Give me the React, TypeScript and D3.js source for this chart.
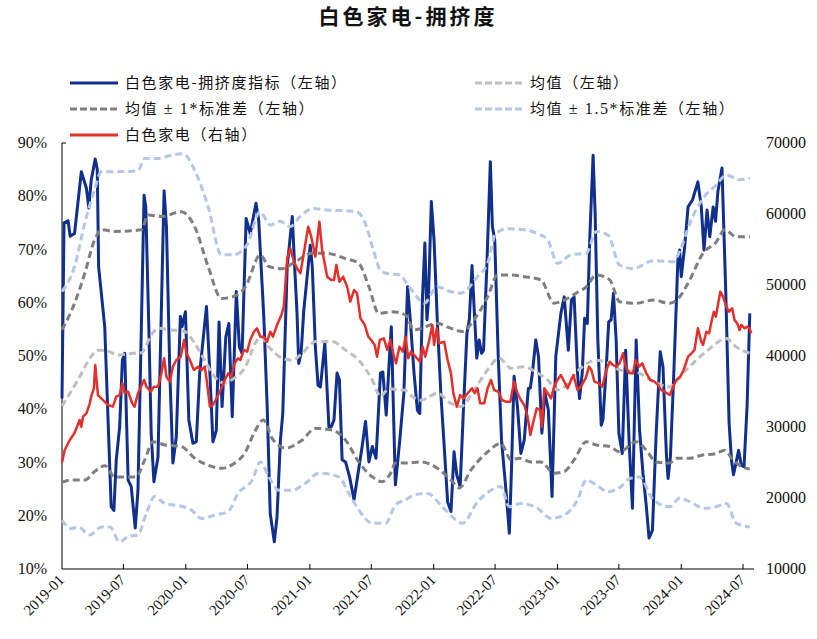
import React from 'react';
import * as d3 from 'd3';

// ---------- data ----------
const xTickLabels: string[] = ['2019-01','2019-07','2020-01','2020-07','2021-01','2021-07','2022-01','2022-07','2023-01','2023-07','2024-01','2024-07'];
const leftTicks: number[] = [10, 20, 30, 40, 50, 60, 70, 80, 90];
const rightTicks: number[] = [10000, 20000, 30000, 40000, 50000, 60000, 70000];

// 白色家电-拥挤度指标 (%)
const crowdSeries: [string, number][] = [
['2019-01-01',42],['2019-01-07',75],['2019-01-19',75.4],['2019-01-25',72.5],['2019-02-07',73],['2019-02-27',84.6],['2019-03-14',81.5],['2019-03-21',77.8],['2019-03-28',83],['2019-04-09',87],['2019-04-15',85],['2019-04-19',66.8],['2019-05-07',55.5],['2019-05-26',21.7],['2019-06-03',21],['2019-06-10',30.5],['2019-06-20',36.7],['2019-06-28',49.2],['2019-07-05',50.5],['2019-07-15',26.7],['2019-07-24',25.5],['2019-08-05',17.7],['2019-08-13',24.8],['2019-08-31',80.2],['2019-09-05',78],['2019-09-14',55.5],['2019-09-21',35.5],['2019-09-29',26.4],['2019-10-11',31],['2019-10-29',81],['2019-11-05',74.3],['2019-11-15',46.8],['2019-11-24',29.9],['2019-12-04',34.8],['2019-12-16',57.4],['2019-12-21',55.5],['2019-12-31',58.3],
['2020-01-10',38],['2020-01-22',33.6],['2020-02-01',33.9],['2020-02-11',46.8],['2020-03-02',59.3],['2020-03-12',46.8],['2020-03-21',33.9],['2020-03-31',36],['2020-04-08',56.4],['2020-04-17',40.5],['2020-04-28',53.6],['2020-05-07',56.1],['2020-05-17',38.6],['2020-05-29',62.1],['2020-06-07',51.7],['2020-06-15',50.5],['2020-06-27',75.8],['2020-07-09',73],['2020-07-26',78.7],['2020-08-03',75.5],['2020-08-18',57.4],['2020-08-28',40.5],['2020-09-06',20.4],['2020-09-18',15.1],['2020-09-26',19.8],['2020-10-06',34.2],['2020-10-13',39.2],['2020-10-26',66.8],['2020-11-10',76.2],['2020-11-17',66.8],['2020-11-24',58],['2020-11-29',48.6],['2020-12-06',50.5],['2020-12-14',58.6],
['2021-01-02',70.8],['2021-01-08',66.8],['2021-01-17',51.7],['2021-01-25',44.5],['2021-02-01',44.2],['2021-02-14',52.4],['2021-02-26',36.7],['2021-03-05',36.7],['2021-03-13',38],['2021-03-22',46.8],['2021-03-29',45.5],['2021-04-06',30.5],['2021-04-16',30.1],['2021-04-28',27.3],['2021-05-11',23],['2021-05-23',28],['2021-06-04',33],['2021-06-14',37.7],['2021-06-24',30.1],['2021-07-04',33],['2021-07-15',30.8],['2021-07-28',46.8],['2021-08-04',47],['2021-08-14',38.9],['2021-08-22',48],['2021-08-29',55.5],['2021-09-10',25.8],['2021-09-23',34.2],['2021-10-05',43],['2021-10-16',63],['2021-10-24',56.8],['2021-11-04',46.8],['2021-11-14',39.8],['2021-11-21',39.2],['2021-11-29',61],['2021-12-06',71.2],['2021-12-12',56.8],['2021-12-16',59.9],['2021-12-25',79],
['2022-01-02',71.8],['2022-01-12',56.1],['2022-01-22',43],['2022-02-01',33],['2022-02-11',22.6],['2022-02-21',20.8],['2022-03-02',32],['2022-03-10',27.7],['2022-03-20',25.5],['2022-03-30',40.5],['2022-04-09',54.3],['2022-04-16',56.8],['2022-04-24',67],['2022-04-30',59.3],['2022-05-08',49.6],['2022-05-15',53],['2022-05-22',50.5],['2022-05-28',51.1],['2022-06-07',67.4],['2022-06-17',86.5],['2022-06-23',74.3],['2022-06-30',71.8],['2022-07-10',50.5],['2022-07-20',34.2],['2022-08-02',24.8],['2022-08-12',16.7],['2022-08-18',28],['2022-08-26',46.2],['2022-09-05',40.5],['2022-09-15',31.7],['2022-09-25',34.2],['2022-10-07',43.9],['2022-10-13',44],['2022-10-19',46.8],['2022-10-29',53],['2022-11-06',49.9],['2022-11-16',35.5],['2022-11-25',43],['2022-12-05',39.9],['2022-12-16',23.6],['2022-12-27',49.9],
['2023-01-11',58],['2023-01-21',61.1],['2023-02-02',51.1],['2023-02-11',60.5],['2023-02-19',61.1],['2023-03-01',46.8],['2023-03-07',42],['2023-03-15',46.8],['2023-03-22',57.1],['2023-03-30',56.1],['2023-04-06',71.8],['2023-04-16',87.7],['2023-04-22',76.8],['2023-04-30',53],['2023-05-10',37],['2023-05-15',38],['2023-05-25',48],['2023-06-01',56.4],['2023-06-08',56.8],['2023-06-15',61.8],['2023-06-23',53],['2023-07-01',35.5],['2023-07-11',31.7],['2023-07-21',51.1],['2023-07-31',34.2],['2023-08-10',21.4],['2023-08-21',53],['2023-08-31',36.1],['2023-09-10',28],['2023-09-20',21.7],['2023-09-28',15.8],['2023-10-08',17.3],['2023-10-19',35.5],['2023-10-31',50.8],['2023-11-08',48],['2023-11-18',31.7],['2023-11-23',27],['2023-11-30',31.1],['2023-12-10',46.8],['2023-12-22',68],['2023-12-27',69.9],
['2024-01-01',64.9],['2024-01-11',70.5],['2024-01-21',78],['2024-02-03',79.3],['2024-02-19',82.7],['2024-02-29',78],['2024-03-08',69.9],['2024-03-17',77.4],['2024-03-25',72.4],['2024-04-04',78],['2024-04-11',75.3],['2024-04-18',80.9],['2024-04-30',85.3],['2024-05-11',62.4],['2024-05-21',37.4],['2024-05-28',30.5],['2024-06-03',27.7],['2024-06-11',30.1],['2024-06-18',32.3],['2024-06-26',29.5],['2024-07-04',29.2],['2024-07-13',40.5],['2024-07-21',58]
];

// 均值
const meanSeries: [string, number][] = [
['2019-01-01',40.6],['2019-02-17',45.5],['2019-03-28',49.9],['2019-04-17',51.1],['2019-05-07',51.1],['2019-06-15',50.2],['2019-07-30',50.5],['2019-08-23',50.6],['2019-09-21',53.9],['2019-10-11',55.2],['2019-11-19',54.9],['2019-12-29',54.6],['2020-01-27',52.4],['2020-02-26',49.2],['2020-03-26',46.1],['2020-04-25',44.9],['2020-05-17',45.6],['2020-06-25',48],['2020-07-24',52.4],['2020-08-08',53.6],['2020-09-02',51.7],['2020-10-11',49.6],['2020-11-10',49.2],['2020-12-09',50.5],['2021-01-17',52.7],['2021-03-08',52.7],['2021-04-16',51.1],['2021-05-25',49.2],['2021-07-04',45.5],['2021-07-28',42.4],['2021-08-22',43.9],['2021-09-20',43.6],['2021-10-06',43.6],['2021-10-30',42.4],['2021-11-24',41.7],['2022-01-12',43],['2022-02-21',41.1],['2022-03-22',40.5],['2022-04-30',43.6],['2022-06-09',47.4],['2022-07-13',49.6],['2022-08-17',47.7],['2022-09-25',48],['2022-10-29',47],['2022-12-03',45.5],['2023-01-01',43.6],['2023-02-10',45.5],['2023-02-25',46.8],['2023-04-06',48.9],['2023-04-25',49.2],['2023-06-04',48.6],['2023-07-03',47.4],['2023-08-21',47],['2023-10-10',45.2],['2023-11-28',44.2],['2024-01-06',46.8],['2024-02-14',49.2],['2024-03-25',51.4],['2024-05-13',53.3],['2024-06-11',51.7],['2024-07-21',50.5]
];

// 均值+1*标准差
const upper1Series: [string, number][] = [
['2019-01-01',54.9],['2019-02-07',59.9],['2019-03-09',65.5],['2019-04-07',71.8],['2019-04-27',73.7],['2019-06-05',73.4],['2019-08-23',73.7],['2019-09-12',76.5],['2019-10-21',76.2],['2019-12-19',77.1],['2020-01-27',74.3],['2020-03-07',66.8],['2020-04-15',60.8],['2020-05-17',61.1],['2020-06-25',63],['2020-08-08',69],['2020-09-02',66.8],['2020-10-11',66.4],['2020-11-19',67.7],['2021-01-08',69.3],['2021-02-16',69.3],['2021-04-16',68.3],['2021-05-25',67.4],['2021-06-24',63],['2021-07-23',58],['2021-09-01',58.3],['2021-10-10',57.7],['2021-11-04',54.9],['2022-01-12',56.1],['2022-02-21',55.2],['2022-03-27',54.6],['2022-04-30',56.8],['2022-06-09',61.1],['2022-07-08',65.2],['2022-08-17',65.2],['2022-09-25',64.9],['2022-11-13',64.3],['2022-12-22',59.9],['2023-01-21',60.5],['2023-02-25',61.8],['2023-03-27',63],['2023-04-25',65.2],['2023-06-04',64.3],['2023-07-03',60.2],['2023-08-21',59.9],['2023-10-10',60.5],['2023-11-28',59.9],['2023-12-27',61.1],['2024-01-26',64.3],['2024-03-05',69.3],['2024-04-13',71.4],['2024-05-08',73.7],['2024-06-11',72.4],['2024-07-21',72.4]
];

// 均值-1*标准差
const lower1Series: [string, number][] = [
['2019-01-01',26.3],['2019-01-28',26.7],['2019-03-09',26.7],['2019-04-07',28.3],['2019-05-08',29.4],['2019-06-05',27.3],['2019-08-07',27.3],['2019-09-02',30.5],['2019-09-26',33.9],['2019-10-31',33.3],['2019-12-19',33],['2020-01-27',30.8],['2020-03-07',29.5],['2020-04-15',28.9],['2020-05-17',29.6],['2020-06-25',32],['2020-07-20',35.5],['2020-08-17',38],['2020-09-12',34.5],['2020-10-21',32.7],['2020-12-09',34.2],['2021-01-17',36.4],['2021-03-08',36.1],['2021-04-16',34.2],['2021-05-25',30.1],['2021-07-04',27.3],['2021-08-02',26.4],['2021-08-27',28],['2021-09-10',29.9],['2021-10-10',29.9],['2021-11-24',30.1],['2022-01-12',28.9],['2022-02-21',26.7],['2022-03-17',25.2],['2022-04-21',28.6],['2022-06-09',32],['2022-07-18',33.6],['2022-08-17',30.5],['2022-09-10',30.8],['2022-10-15',30.1],['2022-11-13',30.1],['2022-12-22',28],['2023-01-21',28.3],['2023-02-19',30.5],['2023-03-27',33.9],['2023-04-25',33.3],['2023-06-04',33],['2023-07-03',32],['2023-08-21',33.9],['2023-09-20',32.3],['2023-10-19',30.1],['2023-11-28',29.9],['2023-12-17',30.8],['2024-01-26',30.8],['2024-03-05',31.4],['2024-04-13',31.7],['2024-05-08',32.3],['2024-06-01',30.5],['2024-07-11',28.9],['2024-07-21',28.8]
];

// 均值+1.5*标准差
const upper15Series: [string, number][] = [
['2019-01-01',62.1],['2019-02-07',66.8],['2019-03-09',74.9],['2019-04-07',81.2],['2019-04-27',84.6],['2019-06-05',84.6],['2019-08-13',84.8],['2019-09-02',87.1],['2019-10-11',87.1],['2019-11-19',87.7],['2019-12-24',88],['2020-01-27',84.9],['2020-03-07',78],['2020-04-15',69],['2020-05-20',69],['2020-06-29',70.8],['2020-08-07',77.1],['2020-09-06',74.6],['2020-10-05',75.3],['2020-11-04',74.3],['2020-12-03',76.2],['2021-01-11',77.7],['2021-02-20',77.4],['2021-04-10',77.3],['2021-05-19',77.1],['2021-06-13',74.9],['2021-07-07',69.9],['2021-07-27',66.2],['2021-08-16',65.5],['2021-09-24',65.2],['2021-10-14',63.6],['2021-11-04',61.8],['2021-12-04',59.9],['2022-01-11',63],['2022-02-20',62.1],['2022-03-22',61.8],['2022-05-10',64.9],['2022-06-09',67.4],['2022-07-03',73],['2022-08-07',73.9],['2022-09-25',73.7],['2022-11-03',73],['2022-12-03',71.8],['2023-01-01',67.4],['2023-02-10',69],['2023-03-27',69.3],['2023-04-25',73.4],['2023-05-30',72.7],['2023-07-03',67.1],['2023-08-12',66.4],['2023-10-10',67.9],['2023-12-08',67.7],['2023-12-27',69.6],['2024-01-26',74.9],['2024-03-05',79.6],['2024-04-13',82.1],['2024-05-13',84],['2024-06-21',83.1],['2024-07-21',83.4]
];

// 均值-1.5*标准差
const lower15Series: [string, number][] = [
['2019-01-01',19.2],['2019-01-28',17.6],['2019-02-17',17.9],['2019-03-24',16.4],['2019-04-27',17.9],['2019-05-22',17.9],['2019-06-20',15.1],['2019-07-15',16.1],['2019-08-13',16.4],['2019-09-07',20.5],['2019-10-01',23.6],['2019-10-31',22.3],['2019-11-29',22],['2019-12-24',21.7],['2020-01-17',21.1],['2020-02-16',19.5],['2020-03-26',20.1],['2020-05-05',20.8],['2020-06-03',24.2],['2020-07-15',26.7],['2020-08-08',30.1],['2020-09-02',27.3],['2020-10-01',24.8],['2020-11-10',24.8],['2020-12-19',26.1],['2021-01-27',28],['2021-03-27',27.3],['2021-04-26',24.2],['2021-05-25',21.1],['2021-07-04',18.6],['2021-08-12',18.6],['2021-09-10',22],['2021-10-10',23],['2021-11-04',23.9],['2021-12-14',24.2],['2022-01-22',22],['2022-02-25',19.8],['2022-03-27',18.6],['2022-05-10',22.6],['2022-06-19',24.8],['2022-07-18',25.5],['2022-08-12',21.7],['2022-09-15',22.3],['2022-11-03',21.4],['2022-12-13',19.5],['2023-01-21',20.1],['2023-03-01',23],['2023-03-27',26.7],['2023-04-25',25.8],['2023-05-30',24.5],['2023-07-08',25.5],['2023-08-02',27],['2023-08-31',27.3],['2023-10-10',23],['2023-11-28',21.7],['2023-12-27',23.3],['2024-02-05',22.3],['2024-03-05',21.4],['2024-04-13',21.7],['2024-05-13',22.3],['2024-06-11',18.6],['2024-07-21',17.9]
];

// 白色家电 指数 (右轴)
const indexSeries: [string, number][] = [
['2019-01-01',25000],['2019-01-09',26760],['2019-01-24',28170],['2019-02-07',29150],['2019-02-22',30990],['2019-02-27',30040],['2019-03-04',31450],['2019-03-14',31930],['2019-03-24',33340],['2019-03-28',34270],['2019-04-05',35450],['2019-04-09',38730],['2019-04-17',34500],['2019-05-02',33800],['2019-05-17',33100],['2019-05-31',32860],['2019-06-10',34270],['2019-06-20',34500],['2019-06-28',36160],['2019-07-05',34750],['2019-07-15',34970],['2019-07-27',33340],['2019-08-03',32860],['2019-08-13',34750],['2019-08-31',36620],['2019-09-07',35680],['2019-09-20',34970],['2019-09-29',35680],['2019-10-11',35680],['2019-10-21',37560],['2019-10-29',39680],['2019-11-05',37080],['2019-11-15',36380],['2019-11-24',38500],['2019-12-04',39440],['2019-12-17',39900],['2019-12-27',42250],
['2020-01-03',40380],['2020-01-13',39440],['2020-01-25',38030],['2020-02-06',38500],['2020-02-16',38030],['2020-02-26',38500],['2020-03-02',36860],['2020-03-12',32860],['2020-03-21',33100],['2020-04-03',34270],['2020-04-15',35450],['2020-04-25',36620],['2020-05-05',37560],['2020-05-14',37080],['2020-05-24',38970],['2020-06-03',39680],['2020-06-10',39440],['2020-06-20',40850],['2020-06-30',40610],['2020-07-09',42250],['2020-07-20',43420],['2020-07-29',43900],['2020-08-08',42720],['2020-08-18',42720],['2020-08-28',42010],['2020-09-06',43420],['2020-09-14',42720],['2020-09-26',44370],['2020-10-09',45780],['2020-10-16',46940],['2020-10-26',53760],['2020-11-04',55170],['2020-11-15',53290],['2020-11-24',52350],['2020-12-04',51650],['2020-12-14',54470],['2020-12-27',58210],
['2021-01-05',56800],['2021-01-17',53990],['2021-01-29',58910],['2021-02-06',54940],['2021-02-21',51170],['2021-03-05',50700],['2021-03-13',50700],['2021-03-20',52820],['2021-03-29',50470],['2021-04-09',51170],['2021-04-21',49760],['2021-04-30',47650],['2021-05-11',49290],['2021-05-20',48830],['2021-05-30',45310],['2021-06-12',44370],['2021-06-22',42720],['2021-07-01',42250],['2021-07-11',41550],['2021-07-18',39900],['2021-07-26',42250],['2021-08-07',42490],['2021-08-17',40850],['2021-08-26',42250],['2021-09-06',39900],['2021-09-12',38970],['2021-09-22',41310],['2021-10-02',40610],['2021-10-10',42720],['2021-10-18',39680],['2021-10-26',40610],['2021-11-09',39900],['2021-11-21',39200],['2021-11-29',41310],['2021-12-07',39900],['2021-12-19',42250],['2021-12-28',44370],
['2022-01-02',41550],['2022-01-10',43900],['2022-01-17',41790],['2022-02-01',42010],['2022-02-11',39440],['2022-02-21',37560],['2022-02-28',34750],['2022-03-10',32860],['2022-03-20',34500],['2022-03-30',34030],['2022-04-11',34750],['2022-04-24',35450],['2022-05-02',34750],['2022-05-10',35450],['2022-05-18',33340],['2022-05-30',33340],['2022-06-09',35450],['2022-06-19',36620],['2022-06-28',35210],['2022-07-11',34970],['2022-07-21',33800],['2022-08-02',33570],['2022-08-15',33570],['2022-08-26',36380],['2022-09-05',34750],['2022-09-15',33800],['2022-09-25',33100],['2022-10-05',31450],['2022-10-13',28870],['2022-10-23',30990],['2022-11-01',32630],['2022-11-11',32390],['2022-11-16',30040],['2022-11-23',35450],['2022-12-03',34750],['2022-12-13',34030],['2022-12-22',35680],
['2023-01-01',36620],['2023-01-11',37320],['2023-01-21',36380],['2023-01-31',35450],['2023-02-10',36620],['2023-02-17',37320],['2023-03-01',35210],['2023-03-11',35680],['2023-03-25',36860],['2023-04-04',38500],['2023-04-11',38030],['2023-04-20',36380],['2023-05-03',36150],['2023-05-13',35680],['2023-05-25',38030],['2023-06-04',39200],['2023-06-14',38730],['2023-06-23',38500],['2023-07-03',38970],['2023-07-13',40380],['2023-07-21',38500],['2023-08-01',37560],['2023-08-12',37560],['2023-08-19',39440],['2023-08-29',38500],['2023-09-08',38970],['2023-09-20',37560],['2023-10-02',36620],['2023-10-14',36380],['2023-10-24',35920],['2023-11-03',35210],['2023-11-13',34970],['2023-11-28',34500],['2023-12-08',35680],['2023-12-17',36620],['2023-12-29',37090],
['2024-01-08',38030],['2024-01-21',39900],['2024-01-31',40380],['2024-02-09',40850],['2024-02-19',43900],['2024-02-29',42010],['2024-03-05',41550],['2024-03-15',43420],['2024-03-23',43190],['2024-03-30',44840],['2024-04-06',46240],['2024-04-12',45540],['2024-04-19',47420],['2024-04-25',49060],['2024-05-03',48360],['2024-05-13',46940],['2024-05-21',46240],['2024-05-30',46720],['2024-06-06',45070],['2024-06-14',44600],['2024-06-21',43660],['2024-06-26',44370],['2024-07-06',43900],['2024-07-14',44130],['2024-07-21',43900],['2024-07-25',43190]
];

// ---------- styles ----------
const BLUE = '#112F8C';
const RED = '#E3302B';
const MEAN = '#BFBFBF';
const STD1 = '#7F7F7F';
const STD15 = '#B4C7E7';
const SERIF = '"Liberation Serif", "Times New Roman", serif';
const CJK = '"Noto Sans CJK SC", "Noto Sans", sans-serif';

const W = 817, H = 639;
const X0 = 62, Y0 = 569, Y1 = 143;

export default function App() {
  const parse = d3.timeParse('%Y-%m-%d');
  const x = d3.scaleTime()
    .domain([parse('2019-01-01') as Date, parse('2024-07-01') as Date])
    .range([X0, 743]);
  const yL = d3.scaleLinear().domain([10, 90]).range([Y0, Y1]);
  const yR = d3.scaleLinear().domain([10000, 70000]).range([Y0, Y1]);

  const lineL = d3.line<[string, number]>()
    .x(d => x(parse(d[0]) as Date))
    .y(d => yL(d[1]));
  const smoothL = d3.line<[string, number]>()
    .x(d => x(parse(d[0]) as Date))
    .y(d => yL(d[1]))
    .curve(d3.curveMonotoneX);
  const lineR = d3.line<[string, number]>()
    .x(d => x(parse(d[0]) as Date))
    .y(d => yR(d[1]));

  const dash = '7 4';
  const legendItems = [
    { x: 70, y: 83, color: BLUE, dashed: false, label: ['白色家电-拥挤度指标（左轴）'] },
    { x: 475, y: 83, color: MEAN, dashed: true, label: ['均值（左轴）'] },
    { x: 70, y: 109, color: STD1, dashed: true, label: ['均值', ' ± 1*', '标准差（左轴）'] },
    { x: 475, y: 109, color: STD15, dashed: true, label: ['均值', ' ± 1.5*', '标准差（左轴）'] },
    { x: 70, y: 135, color: RED, dashed: false, label: ['白色家电（右轴）'] },
  ];

  return (
    <svg width={W} height={H} style={{ position: 'absolute', left: 0, top: 0, background: '#fff' }}>
      <rect width={W} height={H} fill="#fff" />
      <text x={408} y={24} textAnchor="middle" fontFamily={CJK} fontWeight={700} fontSize={21} letterSpacing={3} fill="#111">白色家电-拥挤度</text>

      {/* legend */}
      {legendItems.map((it, i) => (
        <g key={i}>
          <line x1={it.x} x2={it.x + 48} y1={it.y} y2={it.y} stroke={it.color} strokeWidth={3}
            strokeDasharray={it.dashed ? '7 3' : undefined} />
          <text x={it.x + 55} y={it.y + 5} fontSize={15} fill="#111" fontFamily={CJK} letterSpacing={1.6}>
            {it.label.map((s, j) => (
              <tspan key={j} fontFamily={j === 1 ? SERIF : CJK} fontSize={j === 1 ? 16 : 15} xmlSpace="preserve" style={{ whiteSpace: 'pre' }}>{s}</tspan>
            ))}
          </text>
        </g>
      ))}

      {/* axes */}
      <line x1={X0} x2={X0} y1={Y1} y2={Y0} stroke="#000" strokeWidth={1} />
      <line x1={X0} x2={X0 + 4} y1={Y1} y2={Y1} stroke="#000" strokeWidth={1} />
      <line x1={X0} x2={754} y1={Y0} y2={Y0} stroke="#000" strokeWidth={1} />
      {xTickLabels.map((t, i) => {
        const xx = x(parse(t + '-01') as Date);
        return (
          <g key={t}>
            {i > 0 && <line x1={xx} x2={xx} y1={Y0} y2={Y0 - 5} stroke="#000" strokeWidth={1} />}
            <text transform={`translate(${xx + 3},${Y0 + 12}) rotate(-45)`} textAnchor="end"
              fontFamily={SERIF} fontSize={15} fill="#111">{t}</text>
          </g>
        );
      })}
      {leftTicks.map(v => (
        <text key={v} x={47} y={yL(v) + 5} textAnchor="end" fontFamily={SERIF} fontSize={16} fill="#111">{v}%</text>
      ))}
      {rightTicks.map(v => (
        <text key={v} x={766} y={yR(v) + 5} textAnchor="start" fontFamily={SERIF} fontSize={16} fill="#111">{v}</text>
      ))}

      {/* series */}
      <path d={lineL(crowdSeries) || ''} fill="none" stroke={BLUE} strokeWidth={3} strokeLinejoin="round" />
      <path d={smoothL(meanSeries) || ''} fill="none" stroke={MEAN} strokeWidth={3} strokeDasharray={dash} />
      <path d={smoothL(upper1Series) || ''} fill="none" stroke={STD1} strokeWidth={3} strokeDasharray={dash} />
      <path d={smoothL(lower1Series) || ''} fill="none" stroke={STD1} strokeWidth={3} strokeDasharray={dash} />
      <path d={smoothL(upper15Series) || ''} fill="none" stroke={STD15} strokeWidth={3} strokeDasharray={dash} />
      <path d={smoothL(lower15Series) || ''} fill="none" stroke={STD15} strokeWidth={3} strokeDasharray={dash} />
      <path d={lineR(indexSeries) || ''} fill="none" stroke={RED} strokeWidth={2.5} strokeLinejoin="round" />
    </svg>
  );
}
